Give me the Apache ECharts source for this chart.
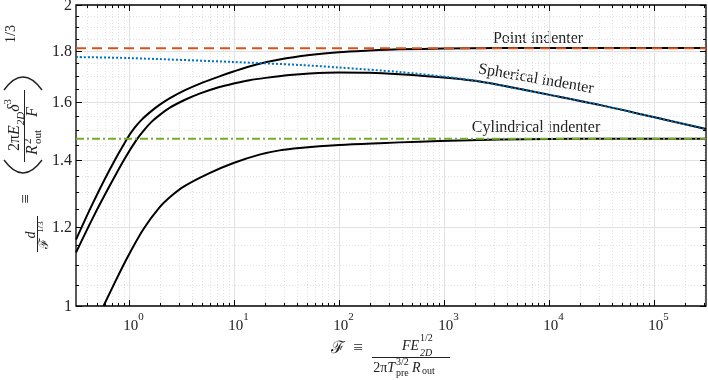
<!DOCTYPE html>
<html>
<head>
<meta charset="utf-8">
<script src="https://cdn.jsdelivr.net/npm/echarts@6/dist/echarts.min.js"></script>
<style>
html, body { margin: 0; padding: 0; background: #fff; }
#chart { width: 708px; height: 380px; }
</style>
</head>
<body>
<div id="chart"></div>
<script>
// axis ranges
var xMin = 0.3162, xMax = 316228;
var yMin = 1, yMax = 2;
var xDecades = [1, 10, 100, 1000, 10000, 100000];
var xExponents = ['0', '1', '2', '3', '4', '5'];
var yMajor = [1, 1.2, 1.4, 1.6, 1.8, 2];
var yLabels = ['1', '1.2', '1.4', '1.6', '1.8', '2'];
var yMinor = [1.05, 1.1, 1.15, 1.25, 1.3, 1.35, 1.45, 1.5, 1.55, 1.65, 1.7, 1.75, 1.85, 1.9, 1.95];

// black curves, [F, d/F^(1/3)]
var pointCurve = [[0.3162, 1.165], [0.4541, 1.265], [0.6596, 1.368], [0.9783, 1.472], [1.1405, 1.507],
    [1.3302, 1.535], [1.5849, 1.561], [1.9737, 1.589], [2.4579, 1.613], [3.4145, 1.643], [4.7451, 1.668],
    [7.3564, 1.697], [10, 1.716], [16.56, 1.744], [27.43, 1.764], [52.95, 1.782], [100, 1.794],
    [197.4, 1.801], [381, 1.806], [1000, 1.809], [3415, 1.811], [316228, 1.811]];
var sphericalCurve = [[0.3162, 1.131], [0.4541, 1.223], [0.6596, 1.318], [0.9161, 1.403], [1.1918, 1.466],
    [1.4201, 1.501], [1.6558, 1.528], [1.9737, 1.552], [2.4579, 1.578], [3.4145, 1.607], [4.7451, 1.631],
    [7.3564, 1.656], [10, 1.669], [14.2, 1.682], [20.17, 1.691], [34.15, 1.702], [52.95, 1.708],
    [100, 1.712], [197.4, 1.711], [381, 1.705], [1000, 1.6925], [1974, 1.6796], [3415, 1.6635],
    [10000, 1.627], [30600, 1.589], [100000, 1.545], [316228, 1.503]];
var cylindricalCurve = [[0.5781, 1.0], [0.7518, 1.059], [0.9783, 1.119], [1.3895, 1.194], [1.9737, 1.255],
    [2.5683, 1.289], [3.4145, 1.318], [5.9067, 1.358], [10, 1.390], [17.68, 1.417], [27.43, 1.431],
    [42.52, 1.439], [102.2, 1.449], [245.8, 1.455], [590.7, 1.460], [1420, 1.464], [3415, 1.467],
    [10000, 1.469], [30600, 1.4696], [316228, 1.47]];

// asymptotic indenter limits
var pointLimit = [[0.3162, 1.81], [316228, 1.81]];
var sphericalLimit = [[0.3162, 1.774], [1, 1.770], [10, 1.754], [42.52, 1.742], [100, 1.732], [381, 1.714],
    [1000, 1.696], [1974, 1.681], [3415, 1.663], [10000, 1.627], [30600, 1.589], [100000, 1.545], [316228, 1.503]];
var cylindricalLimit = [[0.3162, 1.47], [316228, 1.47]];

var serif = 'Liberation Serif';

function renderFrame(params, api) {
    var cs = params.coordSys;
    var L = cs.x, R = cs.x + cs.width, T = cs.y, B = cs.y + cs.height;
    var children = [];
    function seg(x1, y1, x2, y2, style) {
        children.push({type: 'line', shape: {x1: x1, y1: y1, x2: x2, y2: y2}, style: style});
    }
    function px(v) { return Math.round(api.coord([v, yMin])[0]) + 0.5; }
    function py(v) { return Math.round(api.coord([xMin, v])[1]) + 0.5; }
    var majorGrid = {stroke: '#e2e2e2', lineWidth: 1};
    var minorGrid = {stroke: '#e2e2e2', lineWidth: 1, lineDash: [1, 2]};
    var tick = {stroke: '#000', lineWidth: 1};

    // x minor grid + ticks
    var bases = [0.1].concat(xDecades);
    for (var i = 0; i < bases.length; i++) {
        for (var m = 2; m <= 9; m++) {
            var v = bases[i] * m;
            if (v <= xMin || v >= xMax) continue;
            var x = px(v);
            seg(x, T, x, B, minorGrid);
            seg(x, B, x, B - 3, tick);
            seg(x, T, x, T + 3, tick);
        }
    }
    // x major grid, ticks, labels
    for (var j = 0; j < xDecades.length; j++) {
        var xx = px(xDecades[j]);
        seg(xx, T, xx, B, majorGrid);
        seg(xx, B, xx, B - 6, tick);
        seg(xx, T, xx, T + 6, tick);
        children.push({
            type: 'text', x: xx + 4, y: B + 17,
            style: {
                text: '{b|10}{s|' + xExponents[j] + '}',
                align: 'center', verticalAlign: 'middle',
                textAlign: 'center', textVerticalAlign: 'middle',
                rich: {
                    b: {fontFamily: serif, fontSize: 15, lineHeight: 22, verticalAlign: 'bottom', fill: '#222'},
                    s: {fontFamily: serif, fontSize: 11, lineHeight: 11, verticalAlign: 'top', fill: '#222'}
                }
            }
        });
    }
    // y minor
    for (var k = 0; k < yMinor.length; k++) {
        var y = py(yMinor[k]);
        seg(L, y, R, y, minorGrid);
        seg(L, y, L + 3, y, tick);
        seg(R, y, R - 3, y, tick);
    }
    // y major
    for (var n = 0; n < yMajor.length; n++) {
        var yy = py(yMajor[n]);
        if (n > 0 && n < yMajor.length - 1) seg(L, yy, R, yy, majorGrid);
        seg(L, yy, L + 6, yy, tick);
        seg(R, yy, R - 6, yy, tick);
        children.push({
            type: 'text', x: L - 4, y: yy,
            style: {
                text: yLabels[n], fill: '#222', fontFamily: serif, fontSize: 16,
                align: 'right', verticalAlign: 'middle', textAlign: 'right', textVerticalAlign: 'middle'
            }
        });
    }
    return {type: 'group', children: children};
}

function lineSeries(data, color, width, dash, smooth) {
    return {
        type: 'line', data: data, showSymbol: false, smooth: smooth,
        lineStyle: {color: color, width: width, type: dash || 'solid'},
        silent: true
    };
}

// text helpers for the axis titles
function txt(x, y, text, size, opts) {
    opts = opts || {};
    return {
        type: 'text', x: x, y: y, rotation: opts.rot || 0, silent: true,
        style: {
            text: text, fill: '#222', fontFamily: serif, fontSize: size,
            fontStyle: opts.italic ? 'italic' : 'normal',
            align: opts.align || 'center', verticalAlign: 'middle',
            textAlign: opts.align || 'center', textVerticalAlign: 'middle',
            rich: opts.rich
        }
    };
}
function bar(x1, y1, x2, y2) {
    return {type: 'line', silent: true, shape: {x1: x1, y1: y1, x2: x2, y2: y2}, style: {stroke: '#222', lineWidth: 1}};
}
function paren(x1, y1, x2, y2, cx, cy) {
    return {type: 'bezierCurve', silent: true, shape: {x1: x1, y1: y1, x2: x2, y2: y2, cpx1: cx, cpy1: cy},
        style: {stroke: '#222', lineWidth: 1.4, fill: null}};
}
var R90 = Math.PI / 2;
var mathRich = {
    n: {fontFamily: serif, fontSize: 16, lineHeight: 24, verticalAlign: 'middle', fill: '#222'},
    i: {fontFamily: serif, fontSize: 16, fontStyle: 'italic', lineHeight: 24, verticalAlign: 'middle', fill: '#222'},
    sb: {fontFamily: serif, fontSize: 11, fontStyle: 'italic', lineHeight: 12, verticalAlign: 'bottom', fill: '#222'},
    sp: {fontFamily: serif, fontSize: 11, lineHeight: 12, verticalAlign: 'top', fill: '#222'}
};

var titleGraphics = [
    // x axis title
    txt(338, 349, '{c|ℱ}', 16, {rich: {c: {fontFamily: 'DejaVu Serif', fontSize: 17, fill: '#222'}}}),
    txt(358, 349, '≡', 17),
    txt(419, 346, 'FE', 14, {italic: true, align: 'right'}),
    txt(420, 338, '1/2', 10, {align: 'left'}),
    txt(420, 353, '2D', 10, {italic: true, align: 'left'}),
    bar(372, 357.5, 450, 357.5),
    txt(395, 368, '2π{i|T}', 14, {align: 'right', rich: {i: {fontFamily: serif, fontSize: 14, fontStyle: 'italic', fill: '#222'}}}),
    txt(396, 362, '3/2', 10, {align: 'left'}),
    txt(396, 373, 'pre', 10, {align: 'left'}),
    txt(412, 368, 'R', 14, {italic: true, align: 'left'}),
    txt(422, 371, 'out', 10, {align: 'left'}),
    // y axis title (rotated, reads bottom to top)
    txt(31, 235, 'd', 14, {italic: true, rot: R90}),
    bar(37.5, 216, 37.5, 252),
    txt(45, 243, '{c|ℱ}', 14, {rot: R90, rich: {c: {fontFamily: 'DejaVu Serif', fontSize: 13, fill: '#222'}}}),
    txt(41, 227, '1/3', 9, {rot: R90}),
    txt(27, 199, '≡', 17, {rot: R90}),
    paren(4, 160, 42, 160, 23, 186),
    txt(15, 125, '{n|2π}{i|E}{sb|2D}{i|δ}{sp|3}', 16, {rot: R90, rich: mathRich}),
    bar(24.5, 90, 24.5, 162),
    txt(33, 150, 'R', 16, {italic: true, rot: R90}),
    txt(28, 144, '2', 11, {rot: R90, align: 'left'}),
    txt(38, 144, 'out', 11, {rot: R90, align: 'left'}),
    txt(33, 112, 'F', 16, {italic: true, rot: R90}),
    paren(4, 90, 42, 90, 23, 64),
    txt(11, 34, '1/3', 14, {rot: R90}),
    // curve annotations
    txt(538, 39, 'Point indenter', 16),
    txt(536, 79, 'Spherical indenter', 16, {rot: -0.17}),
    txt(536, 128, 'Cylindrical indenter', 16)
];

var chart = echarts.init(document.getElementById('chart'), null, {renderer: 'canvas'});
var option = {
    animation: false,
    backgroundColor: '#fff',
    grid: {left: 76, right: 2, top: 5, bottom: 74, show: true, borderColor: '#000', borderWidth: 1.3, backgroundColor: '#fff'},
    xAxis: {
        type: 'log', logBase: 10, min: xMin, max: xMax,
        axisLine: {show: false}, axisTick: {show: false}, axisLabel: {show: false}, splitLine: {show: false}
    },
    yAxis: {
        type: 'log', logBase: 10, min: yMin, max: yMax,
        axisLine: {show: false}, axisTick: {show: false}, axisLabel: {show: false}, splitLine: {show: false}
    },
    series: [
        {type: 'custom', renderItem: renderFrame, data: [[1, 1]], clip: false, silent: true, z: 1},
        lineSeries(pointCurve, '#000', 2, 'solid', 0.3),
        lineSeries(sphericalCurve, '#000', 2, 'solid', 0.3),
        lineSeries(cylindricalCurve, '#000', 2, 'solid', 0.3),
        lineSeries(pointLimit, '#D95319', 2, [10, 6], false),
        lineSeries(sphericalLimit, '#0072BD', 2, [2, 2], 0.3),
        lineSeries(cylindricalLimit, '#77AC30', 2, [8, 3, 2, 3], false)
    ],
    graphic: titleGraphics
};
chart.setOption(option);
</script>
</body>
</html>
